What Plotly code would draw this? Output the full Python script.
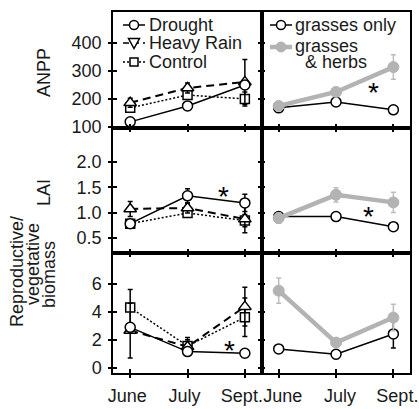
import plotly.graph_objects as go

# ---------------- data ----------------
months = ["June", "July", "Sept."]

# ANPP
anpp_drought = [118, 175, 250]
anpp_drought_err = [8, 8, 15]
anpp_rain = [186, 239, 261]
anpp_rain_err = [16, 18, 80]
anpp_control = [168, 214, 200]
anpp_control_err = [14, 12, 25]
anpp_grass = [168, 189, 161]
anpp_grass_err = [10, 8, 6]
anpp_herbs = [175, 225, 314]
anpp_herbs_err = [10, 10, 44]

# LAI
lai_drought = [0.78, 1.33, 1.19]
lai_drought_err = [0.05, 0.14, 0.17]
lai_rain = [1.07, 1.09, 0.87]
lai_rain_err = [0.15, 0.10, 0.27]
lai_control = [0.78, 0.99, 0.84]
lai_control_err = [0.05, 0.06, 0.12]
lai_grass = [0.92, 0.92, 0.72]
lai_grass_err = [0.05, 0.04, 0.04]
lai_herbs = [0.89, 1.35, 1.20]
lai_herbs_err = [0.10, 0.14, 0.20]

# Reproductive / vegetative biomass
rv_drought = [2.90, 1.17, 1.05]
rv_drought_err = [0.30, 0.30, 0.10]
rv_rain = [2.67, 1.52, 4.38]
rv_rain_err = [1.95, 0.50, 1.38]
rv_control = [4.31, 1.57, 3.62]
rv_control_err = [1.30, 0.60, 1.38]
rv_grass = [1.36, 0.98, 2.43]
rv_grass_err = [0.30, 0.30, 1.00]
rv_herbs = [5.52, 1.81, 3.60]
rv_herbs_err = [0.90, 0.30, 0.95]

anpp_ticks = [100, 200, 300, 400]
lai_ticks = [0.5, 1.0, 1.5, 2.0]
lai_ticklabels = ["0.5", "1.0", "1.5", "2.0"]
rv_ticks = [0, 2, 4, 6]

# significance stars: (row, col, month index position, value)
stars = [(1, 2, 1.65, 239), (2, 1, 1.63, 1.39), (2, 2, 1.56, 1.01), (3, 1, 1.74, 1.5)]

# ---------------- layout helpers ----------------
W, H = 419, 409
L, R, T, B = 113, 9, 12, 36
PW, PH = W - L - R, H - T - B
FONT = "Liberation Sans, Arial, Helvetica, sans-serif"
GRAY = "#b3b3b3"
GRAY_ERR = "#bdbdbd"

def PX(x):
    return (x - L) / PW

def PY(y):
    return (H - B - y) / PH

xidx = list(range(len(months)))
xrange_ = [-0.3, 2.29]
row_dom = {1: [PY(128), 1.0], 2: [PY(253), PY(128)], 3: [0.0, PY(253)]}
col_dom = {1: [0.0, 0.5], 2: [0.5, 1.0]}
yranges = {1: [96, 511], 2: [0.2, 2.67], 3: [-0.36, 8.21]}
yticks = {1: (anpp_ticks, [str(v) for v in anpp_ticks]),
          2: (lai_ticks, lai_ticklabels),
          3: (rv_ticks, [str(v) for v in rv_ticks])}

def axn(row, col):
    return (row - 1) * 2 + col

fig = go.Figure()

def add_series(row, col, y, err, color, width, dash, symbol, msize, fill, lw=1.5, ecolor=None):
    n = axn(row, col)
    fig.add_trace(go.Scatter(
        x=xidx, y=y, mode="lines+markers",
        xaxis="x" if n == 1 else f"x{n}", yaxis="y" if n == 1 else f"y{n}",
        line=dict(color=color, width=width, dash=dash),
        marker=dict(symbol=symbol, size=msize, color=fill, line=dict(color=color, width=lw)),
        error_y=dict(type="data", array=err, color=ecolor or color, thickness=1.5, width=2.5),
        showlegend=False, hoverinfo="skip"))

treat = [
    (anpp_control, anpp_control_err, lai_control, lai_control_err, rv_control, rv_control_err, "2px,2px", "square", 9, 1.5),
    (anpp_rain, anpp_rain_err, lai_rain, lai_rain_err, rv_rain, rv_rain_err, "8px,5px", "triangle-up", 11, 2.0),
    (anpp_drought, anpp_drought_err, lai_drought, lai_drought_err, rv_drought, rv_drought_err, "solid", "circle", 10, 1.5),
]
for a, ae, l_, le, r_, re, dash, sym, ms, lw in treat:
    for row, (y, e) in zip([1, 2, 3], [(a, ae), (l_, le), (r_, re)]):
        add_series(row, 1, y, e, "black", lw, dash, sym, ms, "white")

for row, (y, e) in zip([1, 2, 3], [(anpp_grass, anpp_grass_err), (lai_grass, lai_grass_err), (rv_grass, rv_grass_err)]):
    add_series(row, 2, y, e, "black", 1.5, "solid", "circle", 10, "white")
for row, (y, e) in zip([1, 2, 3], [(anpp_herbs, anpp_herbs_err), (lai_herbs, lai_herbs_err), (rv_herbs, rv_herbs_err)]):
    add_series(row, 2, y, e, GRAY, 4.5, "solid", "circle", 11, GRAY, lw=1, ecolor=GRAY_ERR)

tickstyle = dict(ticklen=4, tickwidth=1.5, tickcolor="black")
axfont = dict(family=FONT, size=18, color="#1a1a1a")
layout = {}
for row in [1, 2, 3]:
    for col in [1, 2]:
        n = axn(row, col)
        xk = "xaxis" if n == 1 else f"xaxis{n}"
        yk = "yaxis" if n == 1 else f"yaxis{n}"
        layout[xk] = dict(
            domain=col_dom[col], anchor="y" if n == 1 else f"y{n}", range=xrange_,
            tickvals=xidx, ticktext=months, showticklabels=(row == 3),
            ticks="inside", mirror=(True if row == 1 else "ticks"),
            showline=True, linecolor="black", linewidth=1.5, automargin=False,
            showgrid=False, zeroline=False, tickfont=axfont, ticklabelstandoff=6,
            ticklabelshift=(-3 if col == 1 else 4), **tickstyle)
        tv, tt = yticks[row]
        layout[yk] = dict(
            domain=row_dom[row], anchor="x" if n == 1 else f"x{n}", range=yranges[row],
            tickvals=tv, ticktext=tt, showticklabels=(col == 1), automargin=False,
            ticks="inside", mirror=("ticks" if col == 1 else True),
            showline=True, linecolor="black", linewidth=1.5,
            showgrid=False, zeroline=False, tickfont=axfont, ticklabelstandoff=6, **tickstyle)

# overlay axes giving outward ticks on outer left and bottom (crossing ticks)
extra = 7
for row in [1, 2, 3]:
    n = axn(row, 1)
    tv, _ = yticks[row]
    yk = f"yaxis{extra}"
    layout[yk] = dict(overlaying="y" if n == 1 else f"y{n}", anchor="x" if n == 1 else f"x{n}",
                      range=yranges[row], tickvals=tv, ticks="outside", showticklabels=False,
                      showline=False, showgrid=False, zeroline=False, automargin=False, **tickstyle)
    fig.add_trace(go.Scatter(x=[None], y=[None], xaxis="x" if n == 1 else f"x{n}", yaxis=f"y{extra}",
                             showlegend=False, hoverinfo="skip"))
    extra += 1
for col in [1, 2]:
    n = axn(3, col)
    xk = f"xaxis{extra}"
    layout[xk] = dict(overlaying=f"x{n}", anchor=f"y{n}", range=xrange_, tickvals=xidx,
                      ticks="outside", showticklabels=False, showline=False, showgrid=False,
                      zeroline=False, automargin=False, **tickstyle)
    fig.add_trace(go.Scatter(x=[None], y=[None], xaxis=f"x{extra}", yaxis=f"y{n}",
                             showlegend=False, hoverinfo="skip"))
    extra += 1

annotations = []
for row, col, xv, yv in stars:
    n = axn(row, col)
    annotations.append(dict(x=xv, y=yv, xref="x" if n == 1 else f"x{n}", yref="y" if n == 1 else f"y{n}",
                            text="*", showarrow=False, font=dict(family=FONT, size=28, color="black"),
                            yshift=-4))

def ytitle(text, xp, yp):
    annotations.append(dict(x=PX(xp), y=PY(yp), xref="paper", yref="paper", text=text, textangle=-90,
                            showarrow=False, font=dict(family=FONT, size=18, color="#1a1a1a"),
                            xanchor="center", yanchor="middle"))

ytitle("ANPP", 44, 73)
ytitle("LAI", 44, 193)
ytitle("Reproductive/", 17, 271)
ytitle("vegetative", 33, 264)
ytitle("biomass", 49, 275)

# ---------------- legends (drawn as keys + text) ----------------
shapes = []
def leg_text(text, xp, yp):
    annotations.append(dict(x=PX(xp), y=PY(yp), xref="paper", yref="paper", text=text, showarrow=False,
                            font=dict(family=FONT, size=18, color="#1a1a1a"), xanchor="left", yanchor="middle"))

def leg_line(x0, x1, yp, color, width, dash):
    shapes.append(dict(type="line", xref="paper", yref="paper", x0=PX(x0), x1=PX(x1), y0=PY(yp), y1=PY(yp),
                       line=dict(color=color, width=width, dash=dash)))

def leg_marker(kind, xp, yp, size, color, fill, lw=1.5):
    h = size / 2
    d = dict(xref="paper", yref="paper", xsizemode="pixel", ysizemode="pixel",
             xanchor=PX(xp), yanchor=PY(yp), line=dict(color=color, width=lw), fillcolor=fill)
    if kind == "circle":
        d.update(type="circle", x0=-h, x1=h, y0=-h, y1=h)
    elif kind == "square":
        d.update(type="rect", x0=-h, x1=h, y0=-h, y1=h)
    else:
        d.update(type="path", path=f"M{-h},{h*0.8} L{h},{h*0.8} L0,{-h} Z")
    shapes.append(d)

leg_rows = [("Drought", "solid", "circle", 9, 25), ("Heavy Rain", "6px,4px", "tri", 11, 43),
            ("Control", "2px,2px", "square", 8, 62)]
for name, dash, kind, sz, yp in leg_rows:
    leg_line(123, 145, yp, "black", 1.5, dash)
    leg_marker(kind, 134, yp, sz, "black", "white")
    leg_text(name, 147, yp)

leg_line(270, 292, 25, "black", 1.5, "solid")
leg_marker("circle", 281, 25, 9, "black", "white")
leg_text("grasses only", 293, 25)
leg_line(270, 292, 47, GRAY, 4.5, "solid")
leg_marker("circle", 281, 47, 10, GRAY, GRAY, lw=1)
leg_text("grasses", 293, 46)
leg_text("&amp; herbs", 303, 62)

fig.update_layout(
    width=W, height=H, margin=dict(l=L, r=R, t=T, b=B, autoexpand=False),
    plot_bgcolor="white", paper_bgcolor="white", showlegend=False,
    annotations=annotations, shapes=shapes, **layout)

fig.write_html("out.html")
